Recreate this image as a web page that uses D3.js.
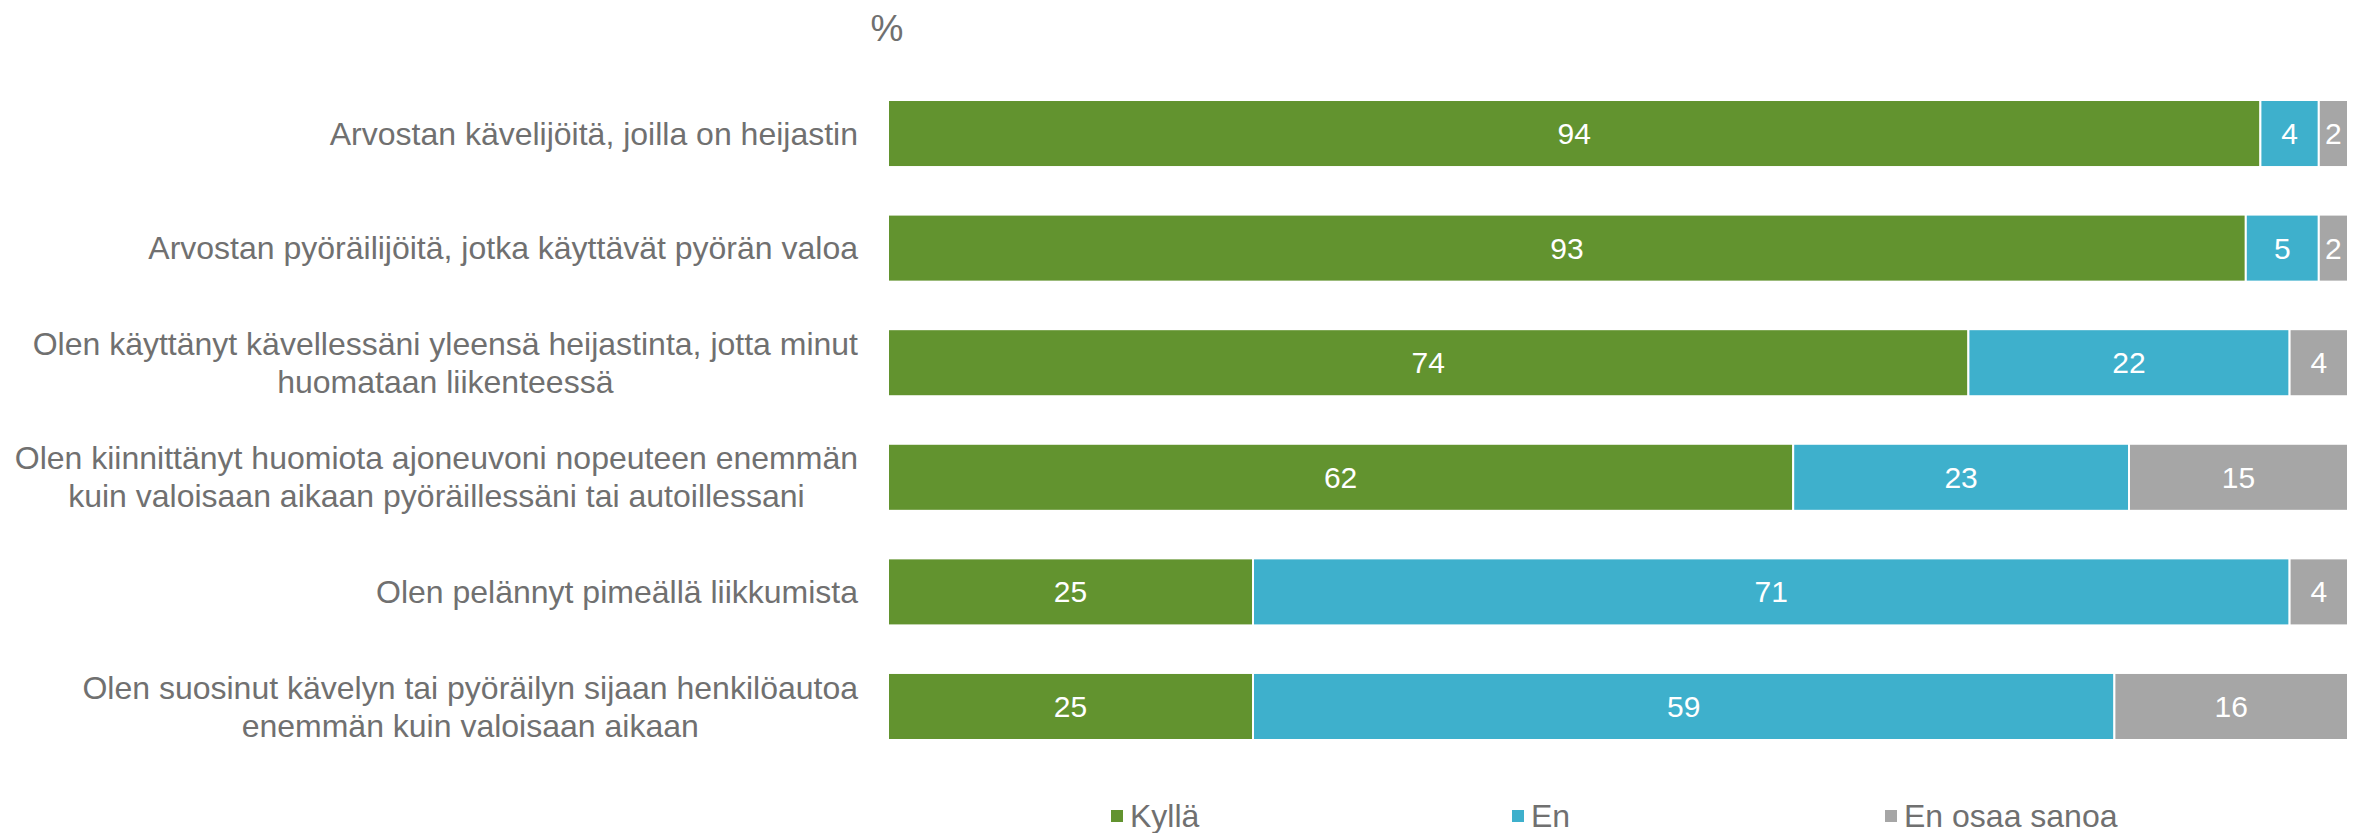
<!DOCTYPE html>
<html>
<head>
<meta charset="utf-8">
<script src="https://cdn.jsdelivr.net/npm/d3@7"></script>
<style>
  body { margin: 0; background: #fff; }
  text { font-family: "Liberation Sans", Arial, sans-serif; }
</style>
</head>
<body>
<div id="container"></div>
<script>

// survey statements, one bar each
const statements = [
  ["Arvostan kävelijöitä, joilla on heijastin"],
  ["Arvostan pyöräilijöitä, jotka käyttävät pyörän valoa"],
  ["Olen käyttänyt kävellessäni yleensä heijastinta, jotta minut", "huomataan liikenteessä"],
  ["Olen kiinnittänyt huomiota ajoneuvoni nopeuteen enemmän", "kuin valoisaan aikaan pyöräillessäni tai autoillessani"],
  ["Olen pelännyt pimeällä liikkumista"],
  ["Olen suosinut kävelyn tai pyöräilyn sijaan henkilöautoa", "enemmän kuin valoisaan aikaan"]
]
const seriesNames = ["Kyllä", "En", "En osaa sanoa"]
const kylla = [94, 93, 74, 62, 25, 25]
const en = [4, 5, 22, 23, 71, 59]
const eos = [2, 2, 4, 15, 4, 16]
const unitLabel = "%"

const colors = ["#62932f", "#3eb0cc", "#a6a6a6"]

const W = 2369, H = 833
const svg = d3.select("#container")
  .append("svg")
    .attr("width", W)
    .attr("height", H)

// stacked rows
const rows = statements.map((s, i) => ({id: i, label: s, Kyllä: kylla[i], En: en[i], "En osaa sanoa": eos[i]}))
const stacked = d3.stack().keys(seriesNames)(rows)

const x = d3.scaleLinear()
  .domain([0, 100])
  .range([888, 2348])

const y = d3.scaleBand()
  .domain(rows.map(d => d.id))
  .range([100, 740])
  .paddingInner(0.415)
  .paddingOuter(0)

const color = d3.scaleOrdinal().domain(seriesNames).range(colors)

// bars
const layer = svg.append("g")
  .selectAll("g")
  .data(stacked)
  .join("g")
    .attr("fill", d => color(d.key))

layer.selectAll("rect")
  .data(d => d.map(v => ({key: d.key, v: v})))
  .join("rect")
    .attr("x", d => x(d.v[0]))
    .attr("y", d => y(d.v.data.id))
    .attr("width", d => x(d.v[1]) - x(d.v[0]))
    .attr("height", y.bandwidth())
    .attr("stroke", "#fff")
    .attr("stroke-width", 2)

// value labels inside bars
layer.selectAll("text")
  .data(d => d.map(v => ({key: d.key, v: v})))
  .join("text")
    .attr("x", d => (x(d.v[0]) + x(d.v[1])) / 2)
    .attr("y", d => y(d.v.data.id) + y.bandwidth() / 2)
    .attr("dy", "0.35em")
    .attr("text-anchor", "middle")
    .attr("fill", "#fff")
    .style("font-size", "30px")
    .text(d => d.v[1] - d.v[0])

// category labels: block right aligned, lines centred within block
const labelRight = 858
const lineH = 38
const lab = svg.append("g")
  .selectAll("text")
  .data(rows)
  .join("text")
    .attr("fill", "#707070")
    .style("font-size", "32px")
    .attr("text-anchor", "middle")

lab.each(function(d) {
  const t = d3.select(this)
  const cy = y(d.id) + y.bandwidth() / 2
  const n = d.label.length
  d.label.forEach((line, j) => {
    t.append("tspan")
      .attr("y", cy + (j - (n - 1) / 2) * lineH)
      .attr("dy", "0.35em")
      .text(line)
  })
  let maxW = 0
  t.selectAll("tspan").each(function() { maxW = Math.max(maxW, this.getComputedTextLength()) })
  t.selectAll("tspan").attr("x", labelRight - maxW / 2)
})

// unit label
svg.append("text")
  .attr("x", 887)
  .attr("y", 41)
  .attr("text-anchor", "middle")
  .attr("fill", "#707070")
  .style("font-size", "37px")
  .text(unitLabel)

// legend
const legendX = [1111, 1512, 1885]
const legend = svg.append("g")
  .selectAll("g")
  .data(seriesNames)
  .join("g")
    .attr("transform", (d, i) => `translate(${legendX[i]},816)`)

legend.append("rect")
  .attr("x", 0)
  .attr("y", -6)
  .attr("width", 12)
  .attr("height", 12)
  .attr("fill", d => color(d))

legend.append("text")
  .attr("x", 19)
  .attr("dy", "0.35em")
  .attr("fill", "#707070")
  .style("font-size", "32px")
  .text(d => d)

</script>
</body>
</html>
